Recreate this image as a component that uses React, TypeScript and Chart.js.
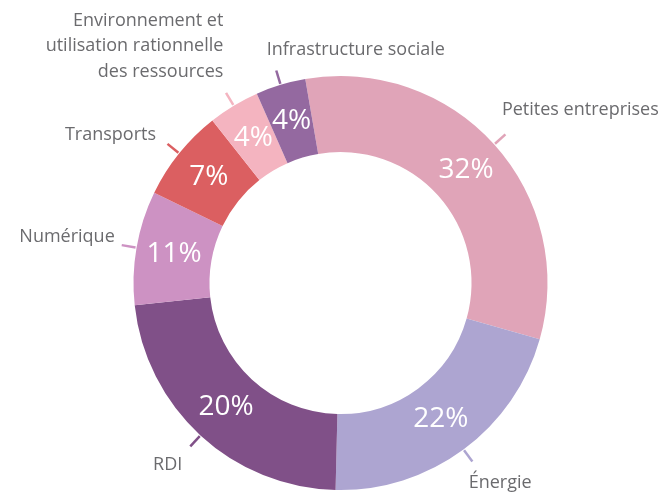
import React, { useEffect, useRef } from "react";
import { Chart, registerables } from "chart.js";

Chart.register(...registerables);

// Categories (clockwise from top)
const categories: string[][] = [
  ["Petites entreprises"],
  ["Énergie"],
  ["RDI"],
  ["Numérique"],
  ["Transports"],
  ["Environnement et", "utilisation rationnelle", "des ressources"],
  ["Infrastructure sociale"],
];

// Slice shares as drawn in the picture (%)
const shares: number[] = [32.1, 21.0, 22.9, 8.9, 7.2, 4.0, 3.9];

// Percent labels printed on the slices
const shareLabels: string[] = ["32%", "22%", "20%", "11%", "7%", "4%", "4%"];

const colors: string[] = [
  "#e0a4b8",
  "#ada5d1",
  "#805088",
  "#cd92c3",
  "#db5f61",
  "#f4b4c0",
  "#9469a0",
];

// Label layout relative to the leader-line end: [dx, dy, align]
const labelLayout: [number, number, "left" | "right"][] = [
  [-3.5, -24.5, "left"],
  [-3.7, 21.5, "left"],
  [-8, 18.6, "right"],
  [-7, -8, "right"],
  [-11.5, -9, "right"],
  [-2.7, -21, "right"],
  [-9.6, -20.5, "left"],
];

const LABEL_FONT = '18px "Open Sans", sans-serif';
const PCT_FONT = '500 28px "Open Sans", sans-serif';

const labelsPlugin = {
  id: "sliceLabels",
  afterDatasetsDraw(chart: any) {
    const ctx = chart.ctx as CanvasRenderingContext2D;
    const meta = chart.getDatasetMeta(0);
    meta.data.forEach((arc: any, i: number) => {
      const { x, y, startAngle, endAngle, innerRadius, outerRadius } = arc.getProps(
        ["x", "y", "startAngle", "endAngle", "innerRadius", "outerRadius"],
        true
      );
      const mid = (startAngle + endAngle) / 2;
      const cos = Math.cos(mid);
      const sin = Math.sin(mid);
      // percent inside
      const rm = (innerRadius + outerRadius) / 2;
      ctx.save();
      ctx.fillStyle = "#ffffff";
      ctx.font = PCT_FONT;
      ctx.textAlign = "center";
      ctx.textBaseline = "middle";
      ctx.fillText(shareLabels[i], x + rm * cos, y + rm * sin);
      // leader tick
      const r0 = outerRadius + 1;
      const r1 = outerRadius + 15;
      ctx.strokeStyle = colors[i];
      ctx.lineWidth = 2.5;
      ctx.beginPath();
      ctx.moveTo(x + r0 * cos, y + r0 * sin);
      ctx.lineTo(x + r1 * cos, y + r1 * sin);
      ctx.stroke();
      // category label
      const ex = x + r1 * cos;
      const ey = y + r1 * sin;
      const [dx, dy, align] = labelLayout[i];
      const lines = categories[i];
      const lh = 25.5;
      ctx.fillStyle = "#6b6b6e";
      ctx.font = LABEL_FONT;
      ctx.textAlign = align;
      ctx.textBaseline = "middle";
      lines.forEach((t, k) => {
        const ly = ey + dy - (lines.length - 1 - k) * lh;
        ctx.fillText(t, ex + dx, ly);
      });
      ctx.restore();
    });
  },
};

export default function App() {
  const ref = useRef<HTMLCanvasElement | null>(null);
  useEffect(() => {
    if (!ref.current) return;
    const chart = new Chart(ref.current, {
      type: "doughnut",
      data: {
        labels: categories.map((c) => c.join(" ")),
        datasets: [
          {
            data: shares,
            backgroundColor: colors,
            borderWidth: 0,
          },
        ],
      },
      options: {
        responsive: false,
        animation: false,
        rotation: -9.8,
        cutout: "63.3%",
        layout: { padding: { left: 133.5, top: 76, right: 117.5, bottom: 3 } },
        plugins: {
          legend: { display: false },
          tooltip: { enabled: false },
        },
      },
      plugins: [labelsPlugin],
    });
    return () => chart.destroy();
  }, []);
  return (
    <div style={{ position: "fixed", left: 0, top: 0, width: 665, height: 493, background: "#fff" }}>
      <canvas ref={ref} width={665} height={493} style={{ width: 665, height: 493 }} />
    </div>
  );
}
